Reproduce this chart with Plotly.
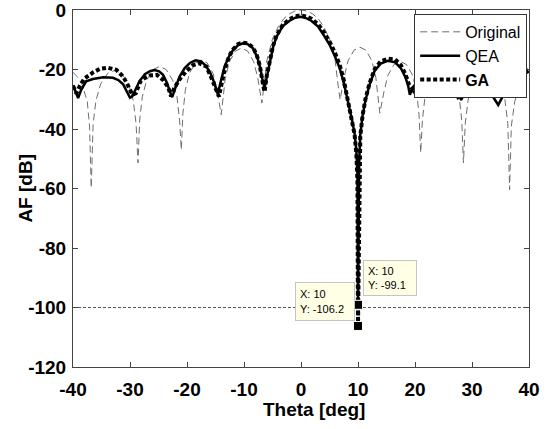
import plotly.graph_objects as go

# ---------------- data ----------------
orig_theta = [-40, -39.2, -38.4, -37.5, -37.1, -36.8,
              -36.47, -35.98, -35.16, -33.93, -32.7, -31.47, -30.24, -29.42, -28.93, -28.6,
              -28.3, -27.84, -27.08, -25.94, -24.8, -23.66, -22.52, -21.76, -21.3, -21.0,
              -20.72, -20.3, -19.6, -18.55, -17.5, -16.45, -15.4, -14.7, -14.0,
              -13.29, -12.57, -11.5, -10.43, -9.36, -8.29, -7.57, -6.86,
              -6.5, -6.0, -5.0, -4.0, -3.0, -2.0, -1.0, 0, 1.0, 2.0, 3.0, 4.0, 5.0, 6.0, 6.5, 6.86,
              7.56, 8.25, 9.3, 10.35, 11.39, 12.44, 13.13, 13.83,
              14.55, 15.26, 16.34, 17.42, 18.49, 19.57, 20.28, 20.71, 21.0,
              21.3, 21.75, 22.5, 23.63, 24.75, 25.88, 27.0, 27.75, 28.2, 28.5,
              28.82, 29.31, 30.12, 31.34, 32.55, 33.77, 34.98, 35.79, 36.28, 36.6,
              36.9, 37.5, 38.4, 39.2, 40.0]
orig_db = [-21.0, -22.5, -25.1, -30.7, -39.0, -59.8,
           -38.3, -30.5, -24.9, -21.3, -20.3, -21.3, -24.9, -30.5, -38.3, -51.4,
           -37.0, -29.2, -23.6, -20.0, -19.0, -20.0, -23.6, -29.2, -37.0, -47.0,
           -34.8, -27.0, -21.4, -17.8, -16.8, -17.8, -21.4, -27.0, -35.2,
           -23.0, -17.4, -13.8, -12.8, -13.8, -17.4, -23.0, -31.3,
           -25.2, -17.1, -9.7, -5.6, -2.9, -1.25, -0.3, 0.0, -0.3, -1.25, -2.9, -5.6, -9.7, -17.1, -25.2, -30.2,
           -22.7, -17.1, -13.5, -12.5, -13.5, -17.1, -22.7, -34.7,
           -27.5, -21.9, -18.3, -17.3, -18.3, -21.9, -27.5, -35.3, -48.0,
           -37.0, -29.2, -23.6, -20.0, -19.0, -20.0, -23.6, -29.2, -37.0, -51.4,
           -38.1, -30.3, -24.7, -21.1, -20.1, -21.1, -24.7, -30.3, -38.1, -60.4,
           -39.0, -30.7, -25.1, -22.5, -20.7]

qea_theta = [-40, -39.5, -39.1, -38.6, -37.7, -36.5, -34.7, -33.0, -32.0, -31.2, -30.5, -30.0,
             -29.6, -29.0, -28.3, -27.4, -26.5, -25.7, -24.9, -24.2, -23.5, -23.0, -22.6,
             -22.1, -21.3, -20.4, -19.5, -18.5, -17.5, -16.6, -15.9, -15.4, -14.9, -14.6,
             -14.2, -13.4, -12.6, -11.9, -11.0, -10.2, -9.4, -8.4, -7.7, -7.2, -6.8, -6.4,
             -6.0, -5.5, -4.9, -4.3, -3.2, -2.0, -1.0, 0.0, 1.0, 1.8, 3.0, 4.0, 5.0, 6.0,
             6.8, 7.5, 8.0, 8.5, 9.0, 9.4, 9.7, 9.9, 10.0, 10.2, 10.4, 10.8, 11.3, 12.0,
             12.9, 14.0, 15.2, 16.5, 17.5, 18.3, 18.8, 19.1, 19.6, 20.2, 21.0, 22.5, 24.0,
             25.5, 26.7, 27.4, 28.1, 28.9, 29.9, 31.0, 32.0, 32.8, 33.8, 34.6, 35.4, 36.6,
             38.4, 40.0]
qea_db = [-25.3, -27.5, -29.6, -27.0, -24.0, -23.2, -22.6, -22.8, -23.6, -25.0, -27.5, -29.5,
          -29.0, -26.5, -23.8, -21.6, -20.6, -20.2, -20.6, -21.8, -24.5, -27.4, -29.3,
          -26.5, -22.4, -19.5, -17.8, -16.9, -17.3, -19.0, -21.2, -23.5, -26.5, -28.3,
          -25.0, -19.0, -15.5, -13.4, -11.8, -11.2, -11.4, -12.9, -15.8, -19.0, -23.0, -26.3,
          -22.5, -17.5, -12.5, -9.0, -5.4, -3.6, -2.6, -2.3, -2.8, -3.6, -5.6, -8.5, -11.6, -15.8,
          -19.6, -24.3, -28.5, -33.0, -37.5, -41.5, -47.0, -55.0, -99.1, -52.0, -42.0, -35.5, -30.5, -25.2,
          -20.5, -18.0, -17.1, -17.6, -19.5, -22.5, -25.5, -28.5, -26.0, -24.6, -22.5, -20.5, -20.0,
          -21.5, -24.8, -27.5, -30.2, -27.3, -24.8, -23.0, -23.5, -25.7, -29.5, -31.9, -29.0, -24.6,
          -21.8, -20.7]

ga_theta = [-40, -39.4, -38.8, -38.0, -37.2, -36.5, -35.3, -33.9, -32.4, -31.2, -30.4, -29.6,
            -29.0, -28.2, -27.4, -26.5, -25.3, -24.2, -23.3, -22.8, -22.3, -21.3, -20.2, -19.0,
            -17.9, -16.6, -15.7, -14.8, -14.4, -14.0, -13.4, -12.6, -11.9, -11.0, -10.3, -9.4,
            -8.4, -7.7, -7.2, -6.8, -6.4, -6.0, -5.5, -4.9, -4.3, -3.2, -2.0, -1.0, 0.0, 1.0,
            1.8, 3.0, 4.0, 5.0, 6.0, 6.8, 7.5, 8.0, 8.5, 9.0, 9.4, 9.7, 9.9, 10.0, 10.2, 10.4,
            10.8, 11.3, 12.0, 12.9, 14.0, 15.3, 16.5, 17.5, 18.3, 18.9, 19.7, 20.3, 21.0, 22.5,
            24.0, 25.5, 26.1, 26.8, 27.5, 28.2, 29.0, 30.0, 31.5, 33.0, 34.5, 36.0, 38.0, 40.0]
ga_db = [-25.5, -28.0, -25.5, -23.0, -22.0, -21.0, -19.8, -19.4, -20.1, -22.4, -25.2, -28.5,
         -28.0, -24.1, -22.8, -22.0, -21.8, -23.5, -26.0, -29.0, -26.5, -23.3, -20.7, -18.6,
         -17.9, -19.0, -22.9, -27.4, -29.1, -25.5, -20.1, -15.5, -13.2, -11.4, -11.0, -11.2,
         -12.6, -15.5, -19.0, -23.5, -27.5, -22.0, -17.0, -12.0, -8.6, -5.0, -3.1, -2.1, -1.8, -2.2,
         -2.9, -4.8, -7.4, -10.6, -14.6, -18.6, -23.5, -28.0, -32.8, -37.5, -41.8, -48.0, -57.0, -106.2, -52.0, -42.5,
         -35.5, -30.0, -24.8, -20.0, -17.2, -16.4, -16.6, -18.5, -21.5, -24.8, -27.0, -24.8, -22.5, -20.0,
         -19.8, -21.5, -24.6, -27.0, -29.1, -27.0, -24.6, -22.0, -20.5, -21.5, -23.0, -22.0, -20.5, -20.3]

tip_theta = [10, 10]
tip_db = [-99.1, -106.2]
ref_level = -100

x_ticks = [-40, -30, -20, -10, 0, 10, 20, 30, 40]
x_ticklabels = ["-40", "-30", "-20", "-10", "0", "10", "20", "30", "40"]
y_ticks = [-120, -100, -80, -60, -40, -20, 0]
y_ticklabels = ["-120", "-100", "-80", "-60", "-40", "-20", "0"]

# ---------------- figure ----------------
fig = go.Figure()
fig.add_trace(go.Scatter(x=orig_theta, y=orig_db, mode="lines", name="Original",
                         line=dict(color="#6e6e6e", width=1, dash="7px,4px")))
fig.add_trace(go.Scatter(x=qea_theta, y=qea_db, mode="lines", name="QEA",
                         line=dict(color="black", width=2.5)))
fig.add_trace(go.Scatter(x=ga_theta, y=ga_db, mode="lines", name="<b>GA</b>",
                         line=dict(color="black", width=4, dash="4px,2.5px")))
fig.add_trace(go.Scatter(x=tip_theta, y=tip_db, mode="markers", showlegend=False,
                         marker=dict(symbol="square", size=9, color="black",
                                     line=dict(color="#fffff0", width=1))))

fig.add_shape(type="line", xref="x", yref="y", x0=-40, x1=40, y0=ref_level, y1=ref_level,
              line=dict(color="#555555", width=1, dash="3px,2px"), layer="below")

tipfont = dict(family="Arial", size=11, color="black")
fig.add_annotation(x=10.82, y=-84.0, xref="x", yref="y", xanchor="left", yanchor="top",
                   text="X: 10<br>Y: -99.1", showarrow=False, align="left", font=tipfont,
                   bgcolor="#ffffe6", bordercolor="#c4c4c4", borderwidth=1, borderpad=4,
                   width=44, height=26)
fig.add_annotation(x=-1.1, y=-91.4, xref="x", yref="y", xanchor="left", yanchor="top",
                   text="X: 10<br>Y: -106.2", showarrow=False, align="left", font=tipfont,
                   bgcolor="#ffffe6", bordercolor="#c4c4c4", borderwidth=1, borderpad=4,
                   width=50, height=29)

titlefont = dict(family="Arial", size=19, color="black", weight="bold")
fig.add_annotation(x=0.528, y=-0.118, xref="paper", yref="paper", xanchor="center",
                   yanchor="middle", text="Theta [deg]", showarrow=False, font=titlefont)
fig.add_annotation(x=-0.105, y=0.5, xref="paper", yref="paper", xanchor="center",
                   yanchor="middle", text="AF [dB]", showarrow=False, font=titlefont,
                   textangle=-90)

tickfont = dict(family="Arial", size=19, color="black", weight="bold")
axis_common = dict(ticks="inside", ticklen=5, tickcolor="#444444", showline=True,
                   linecolor="#444444", linewidth=1, mirror="ticks", showgrid=False,
                   zeroline=False, tickfont=tickfont, automargin=False,
                   ticklabeloverflow="allow")
fig.update_xaxes(range=[-40, 40], tickvals=x_ticks, ticktext=x_ticklabels,
                 ticklabelstandoff=5, **axis_common)
fig.update_yaxes(range=[-120, 0], tickvals=y_ticks, ticktext=y_ticklabels,
                 ticklabelstandoff=2, **axis_common)

fig.update_layout(
    width=555, height=429,
    margin=dict(l=73, r=26, t=10, b=62, autoexpand=False),
    plot_bgcolor="white", paper_bgcolor="white",
    legend=dict(x=0.996, y=0.989, xanchor="right", yanchor="top",
                bgcolor="white", bordercolor="#333333", borderwidth=1,
                font=dict(family="Arial", size=16, color="black"),
                itemwidth=40, tracegroupgap=0),
    showlegend=True,
    hovermode=False,
)

# remove the page's default 8px body margin so the figure fills the window exactly
fig.write_html("out.html", config={"displayModeBar": False},
               post_script="document.body.style.margin='0';")
